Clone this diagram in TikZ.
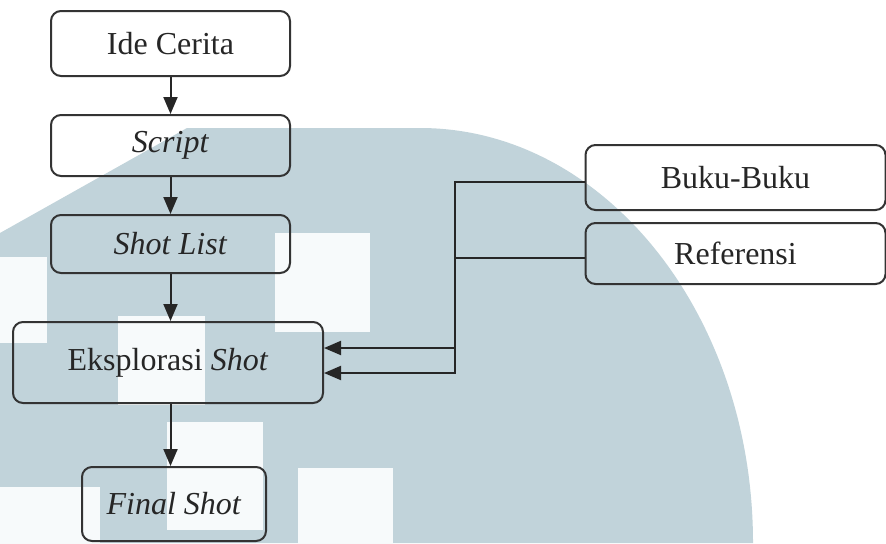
\documentclass[tikz,border=0pt]{standalone}
\usepackage{fontspec}
\setmainfont{Liberation Serif}
\usetikzlibrary{arrows.meta}
\definecolor{umnblue}{HTML}{C1D3DA}
\definecolor{umnwhite}{HTML}{F7FAFB}

\begin{document}
\begin{tikzpicture}
  [x=5pt,y=5pt,
   every node/.style={draw=black!80,line width=1pt,rounded corners=5pt,inner sep=0pt,
     text=black!85,font=\fontsize{16}{19}\selectfont},
   flow/.style={draw=black!85,line width=1pt,-{Triangle[length=8.5pt,width=7pt]}}]
  \useasboundingbox (0,0) rectangle (88.6,54.3);

  % watermark behind the chart
  \fill[white] (0,0) rectangle (88.6,54.3);
  \fill[umnblue] (0,31) -- (18.7,41.5) -- (42,41.5)
    arc[start angle=90,end angle=0,x radius=33.3,y radius=41.5] -- (0,0) -- cycle;
  \foreach \xa/\ya/\xb/\yb in {27.5/21.1/37/31,11.8/13.8/20.5/22.7,16.7/1.3/26.3/12.1,
                               29.8/0/39.3/7.5,0/0/10/5.6,0/20/4.7/28.6}
    \fill[umnwhite] (\xa,\ya) rectangle (\xb,\yb);

  \node[minimum width=119.5pt,minimum height=32.5pt] (ide) at (17.05,49.95) {Ide Cerita};
  \node[minimum width=119.5pt,minimum height=30.5pt] (script) at (17.05,39.75) {\textit{Script}};
  \node[minimum width=119.5pt,minimum height=29pt] (shot) at (17.05,29.9) {\textit{Shot List}};
  \node[minimum width=155pt,minimum height=40.5pt] (eks) at (16.8,18.05) {Eksplorasi \textit{Shot}};
  \node[minimum width=92pt,minimum height=37pt] (final) at (17.4,3.9) {\textit{Final Shot}};
  \node[minimum width=150pt,minimum height=32.5pt] (buku) at (73.55,36.55) {Buku-Buku};
  \node[minimum width=150pt,minimum height=30.5pt] (ref) at (73.55,28.95) {Referensi};

  \foreach \from/\to in {ide/script,script/shot,shot/eks,eks/final}
    \draw[flow] (\from.south -| ide.south) -- (\to.north -| ide.south);

  \draw[flow] ([yshift=-2pt]buku.west) -- ++(-13,0) |- ([yshift=-5.25pt]eks.east);
  \draw[flow] ([yshift=-2.25pt]ref.west) -- ++(-13,0) |- ([yshift=7.25pt]eks.east);

\end{tikzpicture}
\end{document}
